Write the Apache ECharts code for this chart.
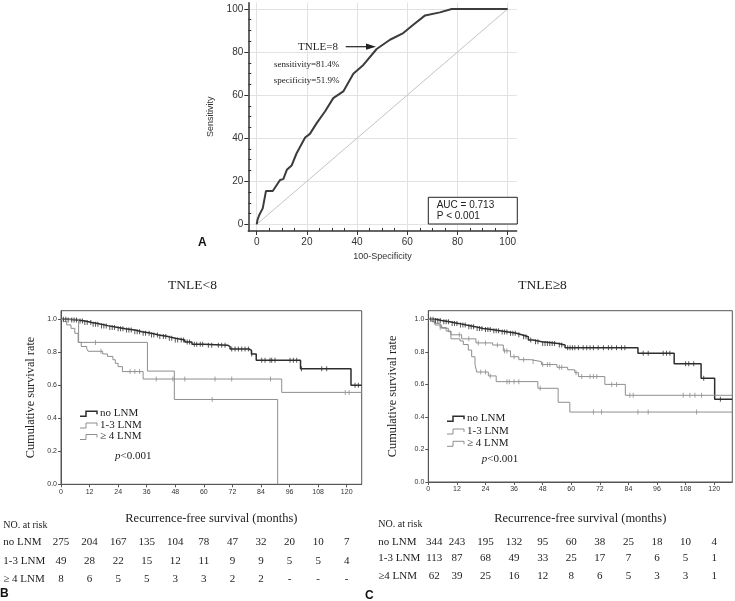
<!DOCTYPE html>
<html>
<head>
<meta charset="utf-8">
<script src="https://cdn.jsdelivr.net/npm/echarts@6.0.0/dist/echarts.min.js"></script>
<style>
html,body{margin:0;padding:0;background:#fff}
#main{width:735px;height:601px}
</style>
</head>
<body>
<div id="main"></div>
<script>
var SERIF = 'Liberation Serif', SANS = 'Liberation Sans'

// A: ROC curve (100-specificity, sensitivity)
var rocX = [0,0.3,1,1.7,2.4,3.7,6.4,6.9,9.3,10.6,12,13.9,15.9,19.3,21.2,23.9,27.2,30.5,34.5,38.5,42.5,47.8,53.1,58.4,62.4,67.1,73,77.7,100]
var rocY = [0,2,4.3,4.3,7.4,15.5,15.5,16,20.6,21,25.3,27.3,33,40.3,42,47,52.4,58.6,61.7,69.9,74,81.4,85.7,88.8,92.7,97,98.4,100,100]
var rocTicks = [0,20,40,60,80,100]
var rocMinor = [5,10,15,25,30,35,45,50,55,65,70,75,85,90,95]

// B / C: months on x axis, survival on y axis
var monthTicks = [0,12,24,36,48,60,72,84,96,108,120]
var survTicks = [0,0.2,0.4,0.6,0.8,1.0]

// B: TNLE<8  (time, survival after that time)
var noB_t = [0,3,7,10,13,17,20,24,27,31,34,38,41,45,48,52,55,60,70,71,79,80,82,100.6,121.8,126.3]
var noB_s = [1,0.995,0.99,0.98,0.97,0.96,0.95,0.943,0.935,0.925,0.915,0.905,0.895,0.885,0.875,0.862,0.848,0.843,0.834,0.82,0.812,0.79,0.752,0.70,0.60,0.60]
var oneB_t = [0,1,2.4,4.2,5.8,7.2,8.5,10.8,11.4,17.5,19.5,21.8,22.8,24,25.8,34.5,92.7,126.3]
var oneB_s = [1,0.986,0.966,0.945,0.915,0.86,0.835,0.822,0.806,0.79,0.775,0.755,0.733,0.713,0.683,0.638,0.557,0.557]
var fourB_t = [0,7.4,36.3,47.6,91]
var fourB_s = [1,0.86,0.686,0.514,0]
var noB_cens = [1,2,3,4.5,5.5,6.5,8,9,10,11,12.5,13.5,14.5,15.5,17,18,19,20.5,21.5,22.5,24,25,26,27.5,28.5,29.5,31,32,33,34.5,35.5,37,38,39,40.5,41.5,43,44,45.5,46.5,48,49,50.5,51.5,53,54,56,57,58.5,59.5,61.9,63.3,66.1,67.5,68.9,71.7,73.1,74.5,75.9,77.3,78.7,80.1,84.3,85.7,87.8,88.5,89.9,96.2,97.6,99,101,109.5,111.6,123.5,124.9]
var oneB_cens = [16.8,29,31,33,40,47,52,64.7,71.7,88,119.4,121]
var fourB_cens = [14.5,63.5]

// C: TNLE>=8
var noC_t = [0,3,5.6,9,12.6,16,19.6,23,26.6,30,33.6,37,39.2,42,44,47.6,54.6,57.4,88,103.2,114.5,120.2,127.6]
var noC_s = [1,0.993,0.985,0.975,0.965,0.955,0.944,0.937,0.93,0.922,0.914,0.905,0.893,0.873,0.862,0.852,0.842,0.826,0.791,0.727,0.637,0.508,0.508]
var oneC_t = [0,2.5,5,7.5,9.5,14,20,27,31.5,34.5,38,43,47.5,54,58.5,61.5,63,74.1,82.7,127.6]
var oneC_s = [1,0.975,0.95,0.928,0.905,0.88,0.855,0.842,0.806,0.77,0.752,0.74,0.722,0.705,0.69,0.672,0.648,0.6,0.533,0.533]
var fourC_t = [0,1.5,2.8,5.6,8.4,9.5,13.3,14.7,16.8,18.2,19.6,20.3,25.2,28.5,46,54.5,59.4,127.6]
var fourC_s = [1,0.985,0.965,0.945,0.924,0.88,0.867,0.845,0.811,0.77,0.723,0.676,0.652,0.617,0.576,0.49,0.43,0.43]
var noC_cens = [1,2,3,4,5,6.5,7.5,8.5,10,11,12,13.5,14.5,15.5,17,18,19,20.5,21.5,22.5,24,25,26,27.5,28.5,29.5,31,32,33,34.5,35.5,36.5,38,40,41,43,45,46,48,49,50,51,52,53,55,56,58.5,59.5,60.5,61.5,63,65,66.5,67.9,69.3,71.3,73.5,75.6,77,79,81.1,82.5,90.2,92.3,98.6,100,101.4,108,109.3,111.4,115.6,122.6]
var oneC_cens = [5,13,17,21,24,29,32,33,36,40,44,48,50,51,55,56,62,64.4,67.9,69.3,70.7,77,79,84.6,86,107,109.8,111.9,114.7]
var fourC_cens = [22,24,26,33,34,36,38,47,69.3,72.7,88,92.3,112.6]

// numbers at risk
var riskLabelsB = ['no LNM','1-3 LNM','\u2265 4 LNM']
var riskLabelsC = ['no LNM','1-3 LNM','\u22654 LNM']
var riskB = [
	[275,204,167,135,104,78,47,32,20,10,7],
	[49,28,22,15,12,11,9,9,5,5,4],
	[8,6,5,5,3,3,2,2,'-','-','-']
]
var riskC = [
	[344,243,195,132,95,60,38,25,18,10,4],
	[113,87,68,49,33,25,17,7,6,5,1],
	[62,39,25,16,12,8,6,5,3,3,1]
]

var darkCol = '#2e2e2e', greyCol = '#8e8e8e'

function pairs (ts, ss) {
	return ts.map(function (t, i) { return [t, ss[i]] })
}
function survAt (ts, ss, t) {
	var v = ss[0]
	for (var i = 0; i < ts.length; i++) {
		if (ts[i] <= t) v = ss[i]
	}
	return v
}
function kmLine (name, ts, ss, axis, col, w) {
	return {
		type: 'line', name: name, step: 'end', symbol: 'none',
		xAxisIndex: axis, yAxisIndex: axis,
		data: pairs(ts, ss),
		lineStyle: {color: col, width: w},
		silent: true, z: 3
	}
}
function kmCens (ts, ss, cens, axis, col) {
	return {
		type: 'scatter', symbol: 'rect', symbolSize: [1, 5],
		xAxisIndex: axis, yAxisIndex: axis,
		data: cens.map(function (t) { return [t, survAt(ts, ss, t)] }),
		itemStyle: {color: col},
		silent: true, z: 4
	}
}
function kmX (grid, max, gap) {
	return {
		type: 'value', gridIndex: grid, min: 0, max: max,
		axisLine: {onZero: false, lineStyle: {color: '#555'}},
		axisTick: {customValues: monthTicks, length: 3, lineStyle: {color: '#555'}},
		axisLabel: {customValues: monthTicks, fontSize: 7, color: '#333', fontFamily: SANS, margin: 4},
		splitLine: {show: false},
		name: 'Recurrence-free survival (months)', nameLocation: 'middle', nameGap: gap,
		nameTextStyle: {fontSize: 12.5, fontFamily: SERIF, color: '#222'}
	}
}
function kmY (grid, max, gap) {
	return {
		type: 'value', gridIndex: grid, min: 0, max: max,
		axisLine: {onZero: false, lineStyle: {color: '#555'}},
		axisTick: {customValues: survTicks, length: 3, lineStyle: {color: '#555'}},
		axisLabel: {customValues: survTicks, fontSize: 7, color: '#333', fontFamily: SANS, margin: 4,
			formatter: function (v) { return v.toFixed(1) }},
		splitLine: {show: false},
		name: 'Cumulative survival rate', nameLocation: 'middle', nameGap: gap,
		nameTextStyle: {fontSize: 12.3, fontFamily: SERIF, color: '#222'}
	}
}

var chart = echarts.init(document.getElementById('main'))

var option = {
	backgroundColor: '#fff',
	animation: false,
	grid: [
		{left: 248.3, top: 2.7, width: 268.4, height: 228.3},
		{left: 61, top: 310.7, width: 300.7, height: 173.6, show: true, borderColor: '#555', borderWidth: 1},
		{left: 428.3, top: 310.7, width: 304, height: 171.3, show: true, borderColor: '#555', borderWidth: 1}
	],
	xAxis: [
		kmX(1, 126.3, 28.4),
		kmX(2, 127.6, 30.7),
		{
			type: 'value', gridIndex: 0, position: 'bottom', min: -3.35, max: 103.6,
			axisLine: {onZero: false, lineStyle: {color: '#333', width: 1.5}},
			axisTick: {customValues: rocTicks, length: 4, lineStyle: {color: '#333'}},
			axisLabel: {customValues: rocTicks, fontSize: 10, color: '#333', fontFamily: SANS, margin: 6},
			splitLine: {show: true, lineStyle: {color: '#e2e2e2'}},
			name: '100-Specificity', nameLocation: 'middle', nameGap: 21,
			nameTextStyle: {fontSize: 9, fontFamily: SANS, color: '#333'}
		},
		{
			// minor ticks
			type: 'value', gridIndex: 0, position: 'bottom', min: -3.35, max: 103.6,
			axisLine: {show: false, onZero: false},
			axisTick: {customValues: rocMinor, inside: true, length: 3, lineStyle: {color: '#333'}},
			axisLabel: {show: false},
			splitLine: {show: false}
		}
	],
	yAxis: [
		kmY(1, 1.052, 24.5),
		kmY(2, 1.053, 30),
		{
			type: 'value', gridIndex: 0, position: 'left', min: -3.1, max: 102.9,
			axisLine: {onZero: false, lineStyle: {color: '#333', width: 1.5}},
			axisTick: {customValues: rocTicks, length: 4, lineStyle: {color: '#333'}},
			axisLabel: {customValues: rocTicks, fontSize: 10, color: '#333', fontFamily: SANS, margin: 5},
			splitLine: {show: true, lineStyle: {color: '#e2e2e2'}},
			name: 'Sensitivity', nameLocation: 'middle', nameGap: 33,
			nameTextStyle: {fontSize: 9, fontFamily: SANS, color: '#333'}
		},
		{
			// minor ticks
			type: 'value', gridIndex: 0, position: 'left', min: -3.1, max: 102.9,
			axisLine: {show: false, onZero: false},
			axisTick: {customValues: rocMinor, inside: true, length: 3, lineStyle: {color: '#333'}},
			axisLabel: {show: false},
			splitLine: {show: false}
		}
	],
	series: [
		// diagonal reference
		{
			type: 'line', xAxisIndex: 2, yAxisIndex: 2, symbol: 'none', silent: true,
			data: [[0, 0], [100, 100]],
			lineStyle: {color: '#c4c4c4', width: 1}
		},
		{
			type: 'line', xAxisIndex: 2, yAxisIndex: 2, symbol: 'none', silent: true,
			data: pairs(rocX, rocY),
			lineStyle: {color: '#3c3c3c', width: 2}, z: 3
		},
		kmLine('no LNM', noB_t, noB_s, 0, darkCol, 1.5),
		kmLine('1-3 LNM', oneB_t, oneB_s, 0, greyCol, 1),
		kmLine('\u2265 4 LNM', fourB_t, fourB_s, 0, greyCol, 1),
		kmCens(noB_t, noB_s, noB_cens, 0, darkCol),
		kmCens(oneB_t, oneB_s, oneB_cens, 0, greyCol),
		kmCens(fourB_t, fourB_s, fourB_cens, 0, greyCol),
		kmLine('no LNM', noC_t, noC_s, 1, darkCol, 1.5),
		kmLine('1-3 LNM', oneC_t, oneC_s, 1, greyCol, 1),
		kmLine('\u2265 4 LNM', fourC_t, fourC_s, 1, greyCol, 1),
		kmCens(noC_t, noC_s, noC_cens, 1, darkCol),
		kmCens(oneC_t, oneC_s, oneC_cens, 1, greyCol),
		kmCens(fourC_t, fourC_s, fourC_cens, 1, greyCol)
	]
}
chart.setOption(option)

function txt (x, y, s, size, fam, extra) {
	var st = {text: s, x: x, y: y, font: size + 'px "' + fam + '"', fill: '#222', align: 'left', verticalAlign: 'middle'}
	for (var k in extra) st[k] = extra[k]
	return {type: 'text', silent: true, style: st}
}

var g = []
// panel A annotations
g.push(txt(318, 46.7, 'TNLE=8', 11, SERIF, {align: 'center'}))
g.push({type: 'line', silent: true, shape: {x1: 345.7, y1: 46.7, x2: 368, y2: 46.7}, style: {stroke: '#222', lineWidth: 1.2}})
g.push({type: 'polygon', silent: true, shape: {points: [[366, 43.6], [376, 46.7], [366, 49.8]]}, style: {fill: '#222'}})
g.push(txt(306.7, 65, 'sensitivity=81.4%', 9, SERIF, {align: 'center'}))
g.push(txt(306.7, 80.7, 'specificity=51.9%', 9, SERIF, {align: 'center'}))
g.push({type: 'rect', silent: true, shape: {x: 428.3, y: 197.3, width: 89, height: 26.7}, style: {fill: '#fff', stroke: '#222', lineWidth: 1}, z: 10})
g.push(Object.assign(txt(436.7, 205.3, 'AUC = 0.713', 10, SANS, {}), {z: 11}))
g.push(Object.assign(txt(436.7, 216.7, 'P < 0.001', 10, SANS, {}), {z: 11}))
g.push(txt(198, 243, 'A', 15, SANS, {fontWeight: 'bold', fill: '#111'}))

// titles
g.push(txt(192.5, 285, 'TNLE<8', 13.5, SERIF, {align: 'center'}))
g.push(txt(542.5, 285, 'TNLE\u22658', 13.5, SERIF, {align: 'center'}))

// legends
function legendBlock (x0, rows, labels, pX, pY) {
	var cols = [darkCol, greyCol, greyCol], ws = [1.5, 1, 1]
	rows.forEach(function (y, i) {
		g.push({type: 'polyline', silent: true,
			shape: {points: [[x0, y + 3], [x0 + 6, y + 3], [x0 + 6, y - 2], [x0 + 17, y - 2], [x0 + 17, y + 1]]},
			style: {stroke: cols[i], lineWidth: ws[i], fill: null}})
		g.push(txt(x0 + 20, y, labels[i], 11, SERIF, {}))
	})
	g.push({type: 'text', silent: true, style: {
		text: '{i|p}<0.001', x: pX, y: pY, font: '11px "' + SERIF + '"', fill: '#222', verticalAlign: 'middle',
		rich: {i: {fontStyle: 'italic', fontFamily: SERIF, fontSize: 11, fill: '#222'}}
	}})
}
legendBlock(80, [413.3, 425, 436.5], ['no LNM', '1-3 LNM', '\u2265 4 LNM'], 115, 455.7)
legendBlock(447, [418.3, 431, 443.3], ['no LNM', '1-3 LNM', '\u2265 4 LNM'], 481.7, 459)

// numbers at risk, columns under the month ticks
function riskBlock (axis, left, rowsY, labels, table, firstShift, headY) {
	g.push(txt(left, headY, 'NO. at risk', 10, SERIF, {}))
	table.forEach(function (row, r) {
		g.push(txt(left, rowsY[r], labels[r], 11, SERIF, {}))
		row.forEach(function (n, c) {
			var x = chart.convertToPixel({xAxisIndex: axis}, monthTicks[c])
			if (c === 0) x += firstShift
			g.push(txt(x, rowsY[r], String(n), 11, SERIF, {align: 'center'}))
		})
	})
}
riskBlock(0, 3.3, [541.7, 560.7, 579], riskLabelsB, riskB, 0, 525)
riskBlock(1, 378.3, [541.7, 558.3, 575.7], riskLabelsC, riskC, 6, 524)

g.push(txt(0, 594, 'B', 15, SANS, {fontWeight: 'bold', fill: '#111'}))
g.push(txt(365, 596, 'C', 15, SANS, {fontWeight: 'bold', fill: '#111'}))

chart.setOption({graphic: g})
</script>
</body>
</html>
